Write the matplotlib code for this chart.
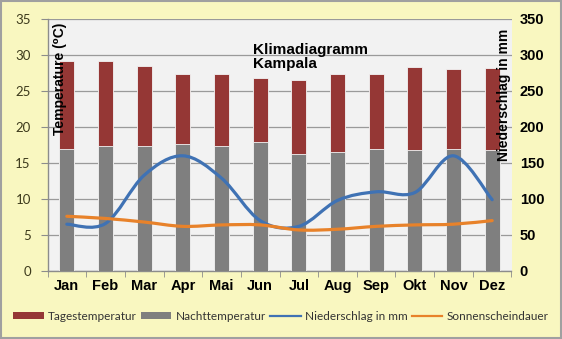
import numpy as np
import matplotlib
matplotlib.use("Agg")
import matplotlib.pyplot as plt
from matplotlib.path import Path
from matplotlib.patches import PathPatch, Patch, Rectangle
from matplotlib.lines import Line2D

# data
months = ["Jan", "Feb", "Mar", "Apr", "Mai", "Jun", "Jul", "Aug", "Sep", "Okt", "Nov", "Dez"]
tages_temp = [29.2, 29.2, 28.5, 27.4, 27.3, 26.8, 26.5, 27.3, 27.4, 28.4, 28.0, 28.2]
nacht_temp = [16.9, 17.3, 17.4, 17.6, 17.4, 17.9, 16.3, 16.5, 16.9, 16.8, 16.9, 16.8]
niederschlag = [65, 66, 133, 160, 129, 70, 62, 98, 110, 109, 160, 99]
sonnenschein = [7.6, 7.3, 6.8, 6.2, 6.4, 6.4, 5.7, 5.8, 6.2, 6.4, 6.5, 7.0]

RED = "#953735"
GRAY = "#7f7f7f"
BLUE = "#3f72b4"
ORANGE = "#e8822a"
BG = "#f9f7c0"


def smooth_path(xs, ys):
    # excel style smoothed line: bezier segments, catmull-rom control points
    pts = np.column_stack([xs, ys]).astype(float)
    n = len(pts)
    verts = [pts[0]]
    codes = [Path.MOVETO]
    for i in range(n - 1):
        p0 = pts[max(i - 1, 0)]
        p1 = pts[i]
        p2 = pts[i + 1]
        p3 = pts[min(i + 2, n - 1)]
        c1 = p1 + (p2 - p0) / 6.0
        c2 = p2 - (p3 - p1) / 6.0
        verts += [c1, c2, p2]
        codes += [Path.CURVE4] * 3
    return Path(verts, codes)


fig = plt.figure(figsize=(5.62, 3.39), dpi=100, facecolor=BG)
ax = fig.add_axes([47.5 / 562, 1 - 271 / 339, 464 / 562, 252 / 339])
ax.set_facecolor("#f2f2f2")

x = np.arange(len(months))
bw = 0.39
ax.bar(x, tages_temp, bw, color=RED, edgecolor="#f4f4f4", linewidth=0.6, zorder=2)
ax.bar(x, nacht_temp, bw, color=GRAY, edgecolor="#f4f4f4", linewidth=0.6, zorder=3)

ax.set_xlim(-0.5, len(months) - 0.5)
ax.set_ylim(0, 35)
ax.set_yticks(range(0, 36, 5))
ax.grid(axis="y", color="#9a9a9a", linewidth=0.9, zorder=1)
ax.set_axisbelow(True)

ax.set_xticks(x)
ax.set_xticklabels(months, fontsize=10.5, fontweight="bold", family="Liberation Sans")
ax.set_xticks(np.arange(-0.5, len(months)), minor=True)
ax.tick_params(axis="x", which="major", length=0, pad=6)
ax.tick_params(axis="x", which="minor", length=4, color="#8c8c8c", direction="out")
ax.tick_params(axis="y", length=5, color="#8c8c8c", labelsize=9.5, labelcolor="#3d3a1c", pad=7)
for lab in ax.get_yticklabels():
    lab.set_family("Lato")

for s in ["top", "right"]:
    ax.spines[s].set_visible(False)
for s in ["left", "bottom"]:
    ax.spines[s].set_color("#8c8c8c")
    ax.spines[s].set_linewidth(1.0)

ax2 = ax.twinx()
ax2.set_ylim(0, 350)
ax2.set_yticks(range(0, 351, 50))
ax2.tick_params(axis="y", length=0, labelsize=10.5, pad=6)
for lab in ax2.get_yticklabels():
    lab.set_fontweight("bold")
    lab.set_family("Liberation Sans")
for s in ax2.spines.values():
    s.set_visible(False)
ax2.patch.set_visible(False)

ax2.add_patch(PathPatch(smooth_path(x, niederschlag), fill=False, edgecolor=BLUE,
                        linewidth=2.3, capstyle="round", joinstyle="round", zorder=4))
ax2.add_patch(PathPatch(smooth_path(x, sonnenschein), fill=False, edgecolor=ORANGE,
                        linewidth=2.3, capstyle="round", joinstyle="round", zorder=5,
                        transform=ax.transData))

# labels inside the plot area
ax.text(0.012, 0.985, "Temperature (\u2070C)", transform=ax.transAxes, rotation=90,
        ha="left", va="top", fontsize=10, fontweight="bold",
        family=["Liberation Sans", "DejaVu Sans"], zorder=6)
ax2.text(0.999, 0.96, "Niederschlag in mm", transform=ax2.transAxes, rotation=90,
         ha="right", va="top", fontsize=10, fontweight="bold",
         family="Liberation Sans", zorder=6)
ax.text(0.443, 0.905, "Klimadiagramm\nKampala", transform=ax.transAxes,
        ha="left", va="top", fontsize=11, fontweight="bold",
        family="Liberation Sans", linespacing=1.05, zorder=6)

handles = [
    Patch(facecolor=RED, edgecolor="none"),
    Patch(facecolor=GRAY, edgecolor="none"),
    Line2D([], [], color=BLUE, linewidth=1.6),
    Line2D([], [], color=ORANGE, linewidth=1.6),
]
labels = ["Tagestemperatur", "Nachttemperatur", "Niederschlag in mm", "Sonnenscheindauer"]
leg = fig.legend(handles, labels, loc="center", bbox_to_anchor=(0.5, 1 - 316 / 339),
                 ncol=4, frameon=False, prop={"family": "Lato", "size": 8.5},
                 handlelength=2.6, handleheight=0.55, handletextpad=0.4,
                 columnspacing=0.3, borderpad=0)
for t in leg.get_texts():
    t.set_color("#333333")

# gray frame round the whole chart
fig.patches.append(Rectangle((0.002, 0.003), 0.996, 0.994, transform=fig.transFigure,
                             fill=False, edgecolor="#a0a0a0", linewidth=1.5))

fig.savefig("out.png", dpi=100, facecolor=BG)
